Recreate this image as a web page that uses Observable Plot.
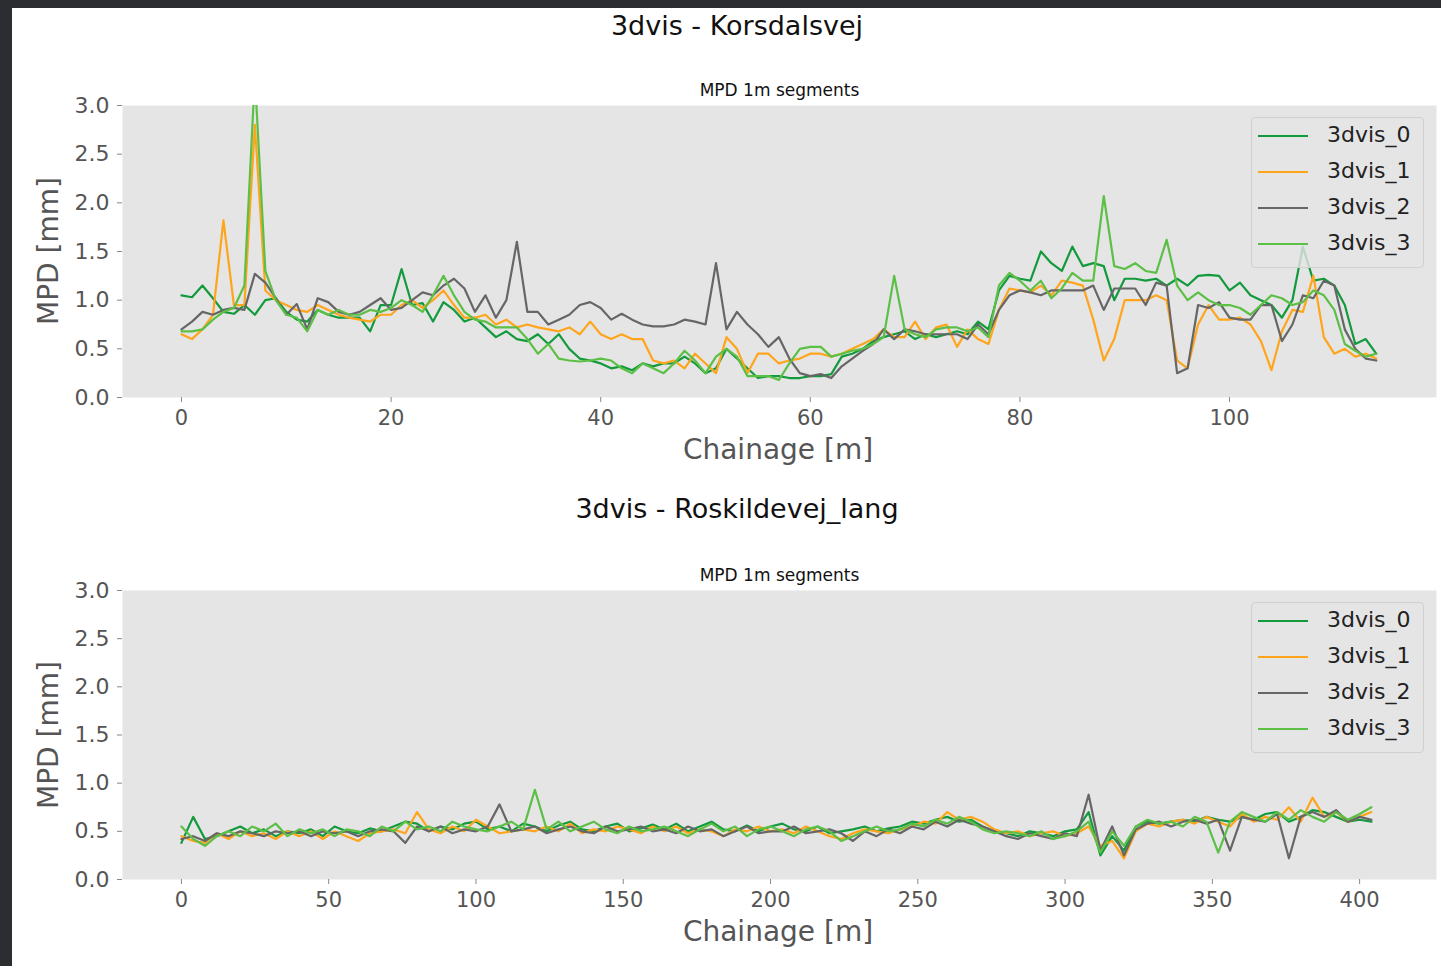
<!DOCTYPE html>
<html><head><meta charset="utf-8">
<script src="https://cdn.jsdelivr.net/npm/d3@7"></script>
<script src="https://cdn.jsdelivr.net/npm/@observablehq/plot@0.6"></script>
<style>
body{margin:0;background:#2b2d31;width:1441px;height:966px;overflow:hidden;font-family:"DejaVu Sans",sans-serif;}
#fig{position:absolute;left:12px;top:8px;width:1429px;height:958px;background:#fff;}
.abs{position:absolute;white-space:nowrap;}
.title{font-size:27px;color:#111;transform:translateX(-50%);}
.xl{font-size:28px;color:#555;transform:translateX(-50%);}
.yl{font-size:28px;color:#555;transform:translate(-50%,-50%) rotate(-90deg);}
.leg{position:absolute;width:171px;height:149px;background:rgba(229,229,229,0.8);border:1px solid #d0d0d0;border-radius:4px;}
.li{position:absolute;left:6px;font-size:22px;color:#222;}
.li span{display:inline-block;width:50px;height:0;border-top:2.5px solid;vertical-align:middle;margin-right:19px;}
</style></head>
<body><div id="fig"></div>
<script>
const seriesNames = ["3dvis_0","3dvis_1","3dvis_2","3dvis_3"];
const colors = ["#139a3d","#ffa51c","#666666","#5cbf46"];
const yTicks = [0,0.5,1,1.5,2,2.5,3];
const xTicksTop = [0,20,40,60,80,100];
const xTicksBottom = [0,50,100,150,200,250,300,350,400];

// Korsdalsvej: chainage 0..114 step 1
const k0 = [1.05,1.03,1.15,1.02,0.88,0.86,0.95,0.85,1.0,1.02,0.88,0.8,0.78,0.9,0.85,0.82,0.82,0.82,0.68,0.95,0.95,1.32,0.95,0.97,0.78,0.98,0.9,0.78,0.82,0.72,0.62,0.68,0.6,0.58,0.65,0.55,0.65,0.5,0.4,0.38,0.35,0.3,0.32,0.28,0.35,0.32,0.35,0.35,0.42,0.35,0.25,0.3,0.5,0.4,0.3,0.2,0.22,0.22,0.2,0.2,0.22,0.22,0.24,0.42,0.45,0.5,0.58,0.62,0.65,0.68,0.6,0.65,0.62,0.65,0.68,0.65,0.78,0.7,1.1,1.25,1.22,1.2,1.5,1.38,1.3,1.55,1.35,1.38,1.35,1.0,1.22,1.22,1.2,1.22,1.15,1.22,1.15,1.25,1.26,1.25,1.1,1.18,1.05,1.0,0.95,0.82,1.0,1.55,1.2,1.22,1.15,0.95,0.55,0.6,0.45];
const k1 = [0.65,0.6,0.7,0.85,1.82,0.95,0.95,2.8,1.1,1.0,0.95,0.9,0.88,0.95,0.9,0.85,0.82,0.8,0.78,0.85,0.85,0.95,1.0,0.92,1.0,1.1,0.95,0.82,0.82,0.85,0.75,0.8,0.72,0.75,0.72,0.7,0.68,0.72,0.65,0.78,0.65,0.6,0.65,0.6,0.6,0.38,0.35,0.38,0.3,0.45,0.35,0.25,0.62,0.5,0.25,0.45,0.45,0.35,0.38,0.4,0.45,0.45,0.42,0.45,0.5,0.55,0.6,0.7,0.62,0.62,0.78,0.6,0.72,0.75,0.52,0.7,0.6,0.55,0.9,1.12,1.1,1.08,1.15,1.05,1.2,1.18,1.15,0.8,0.38,0.6,1.0,1.0,1.0,1.05,1.0,0.38,0.3,0.75,0.95,0.8,0.8,0.82,0.75,0.58,0.28,0.68,0.9,0.88,1.25,0.62,0.45,0.5,0.42,0.45,0.4];
const k2 = [0.7,0.78,0.88,0.85,0.9,0.92,0.9,1.27,1.18,1.02,0.85,0.96,0.7,1.02,0.98,0.88,0.85,0.88,0.95,1.02,0.9,0.92,1.0,1.08,1.05,1.15,1.22,1.12,0.88,1.05,0.82,1.0,1.6,0.88,0.88,0.75,0.8,0.85,0.95,0.98,0.92,0.8,0.86,0.8,0.75,0.73,0.73,0.75,0.8,0.78,0.75,1.38,0.7,0.88,0.75,0.65,0.52,0.62,0.4,0.25,0.22,0.24,0.2,0.32,0.4,0.48,0.55,0.7,0.6,0.7,0.68,0.65,0.65,0.65,0.65,0.6,0.75,0.65,0.9,1.05,1.1,1.08,1.05,1.1,1.1,1.1,1.1,1.15,0.9,1.12,1.12,1.12,0.95,1.18,1.15,0.25,0.3,0.95,0.92,0.98,0.82,0.8,0.8,0.95,0.95,0.58,0.75,1.05,1.02,1.2,1.15,0.7,0.5,0.4,0.38];
const k3 = [0.68,0.68,0.7,0.8,0.88,0.92,1.15,3.3,1.3,1.0,0.85,0.82,0.68,0.9,0.85,0.9,0.85,0.85,0.9,0.88,0.92,1.0,0.95,0.88,1.05,1.25,1.05,0.88,0.8,0.78,0.72,0.72,0.72,0.6,0.45,0.55,0.4,0.38,0.37,0.38,0.4,0.38,0.3,0.25,0.35,0.3,0.25,0.35,0.48,0.38,0.25,0.42,0.5,0.42,0.22,0.22,0.22,0.18,0.35,0.5,0.52,0.52,0.42,0.45,0.48,0.5,0.55,0.62,1.25,0.7,0.65,0.62,0.7,0.72,0.72,0.68,0.72,0.62,1.15,1.28,1.2,1.1,1.2,1.02,1.12,1.28,1.2,1.2,2.07,1.35,1.32,1.38,1.3,1.28,1.62,1.15,1.0,1.08,1.0,0.95,0.95,0.92,0.85,0.95,1.05,1.02,0.95,0.98,1.1,1.05,0.9,0.55,0.48,0.42,0.45];

// Roskildevej_lang: chainage 0..404 step 4
const r0 = [0.38,0.65,0.42,0.45,0.5,0.55,0.48,0.52,0.45,0.5,0.48, 0.52,0.45,0.55,0.5,0.48,0.53,0.5,0.55,0.6,0.58, 0.5,0.55,0.52,0.58,0.6,0.52,0.55,0.5,0.58,0.55, 0.5,0.56,0.6,0.52,0.5,0.55,0.58,0.5,0.53,0.57, 0.52,0.58,0.5,0.55,0.6,0.52,0.5,0.56,0.5,0.55, 0.58,0.52,0.5,0.55,0.48,0.5,0.52,0.55,0.5,0.53, 0.55,0.6,0.58,0.62,0.65,0.6,0.62,0.55,0.5,0.48, 0.45,0.5,0.48,0.45,0.5,0.52,0.7,0.25,0.45,0.3, 0.55,0.6,0.58,0.6,0.62,0.6,0.65,0.62,0.6,0.65, 0.62,0.68,0.7,0.6,0.65,0.72,0.7,0.65,0.6,0.62,0.6];
const r1 = [0.45,0.4,0.38,0.48,0.42,0.5,0.45,0.48,0.42,0.5,0.45, 0.5,0.42,0.5,0.45,0.4,0.48,0.5,0.52,0.48,0.7, 0.52,0.48,0.55,0.5,0.62,0.55,0.48,0.5,0.52,0.5, 0.55,0.5,0.58,0.48,0.52,0.5,0.55,0.52,0.48,0.55, 0.5,0.55,0.48,0.52,0.5,0.45,0.52,0.5,0.55,0.5, 0.52,0.48,0.55,0.5,0.45,0.42,0.48,0.52,0.5,0.48, 0.52,0.55,0.6,0.58,0.7,0.62,0.65,0.6,0.52,0.48, 0.5,0.45,0.48,0.5,0.45,0.48,0.55,0.35,0.4,0.22, 0.5,0.58,0.55,0.6,0.62,0.58,0.65,0.6,0.55,0.68, 0.6,0.65,0.62,0.75,0.6,0.85,0.65,0.7,0.6,0.65,0.7];
const r2 = [0.42,0.45,0.4,0.48,0.45,0.5,0.48,0.45,0.5,0.48,0.5, 0.45,0.5,0.48,0.5,0.45,0.5,0.52,0.5,0.38,0.55, 0.5,0.55,0.48,0.52,0.5,0.55,0.78,0.5,0.52,0.55, 0.48,0.52,0.55,0.5,0.48,0.55,0.5,0.52,0.55,0.5, 0.52,0.48,0.55,0.5,0.52,0.45,0.5,0.55,0.48,0.5, 0.5,0.55,0.48,0.5,0.52,0.48,0.4,0.5,0.45,0.52, 0.48,0.55,0.52,0.6,0.55,0.62,0.58,0.55,0.5,0.45, 0.42,0.48,0.45,0.42,0.48,0.45,0.88,0.3,0.55,0.25, 0.52,0.58,0.6,0.55,0.6,0.62,0.58,0.62,0.3,0.65, 0.62,0.6,0.68,0.22,0.65,0.7,0.65,0.72,0.6,0.65,0.62];
const r3 = [0.55,0.42,0.35,0.45,0.5,0.45,0.55,0.5,0.58,0.45,0.52, 0.48,0.52,0.45,0.52,0.5,0.45,0.55,0.5,0.6,0.52, 0.55,0.5,0.6,0.55,0.52,0.5,0.55,0.6,0.52,0.93, 0.52,0.6,0.5,0.55,0.6,0.52,0.48,0.55,0.5,0.52, 0.55,0.5,0.45,0.52,0.58,0.5,0.55,0.45,0.52,0.55, 0.5,0.45,0.52,0.55,0.5,0.4,0.45,0.5,0.55,0.5, 0.52,0.58,0.55,0.62,0.58,0.65,0.6,0.52,0.48,0.5, 0.48,0.45,0.5,0.42,0.45,0.5,0.6,0.28,0.5,0.35, 0.55,0.62,0.58,0.6,0.55,0.65,0.6,0.28,0.6,0.7, 0.65,0.6,0.7,0.62,0.72,0.65,0.6,0.7,0.62,0.68,0.75];

function rows(arrs, step){
  const out=[];
  arrs.forEach((a,si)=>a.forEach((v,i)=>out.push({x:i*step,y:v,s:seriesNames[si]})));
  return out;
}
const fig=document.getElementById("fig");
function add(html){fig.insertAdjacentHTML("beforeend",html);}

function chart(data, xdom, xticks, top, plotH, title, titleY){
  const p = Plot.plot({
    width:1429, height:45+plotH+70, marginLeft:110, marginRight:5, marginTop:45, marginBottom:70,
    style:{fontFamily:"DejaVu Sans", background:"transparent", overflow:"visible"},
    x:{domain:xdom, ticks:xticks, tickFormat:d=>String(d), label:null},
    y:{domain:[0,3], ticks:yTicks, tickFormat:d3.format(".1f"), label:null},
    color:{domain:seriesNames, range:colors},
    marks:[
      Plot.frame({fill:"#e5e5e5", stroke:null}),
      Plot.axisX({ticks:xticks, tickFormat:d=>String(d), tickSize:5, tickPadding:8, fontSize:21, color:"#555", stroke:"#888", label:null}),
      Plot.axisY({ticks:yTicks, tickFormat:d3.format(".1f"), tickSize:5, tickPadding:8, fontSize:22, color:"#555", stroke:"#888", label:null}),
      Plot.line(data,{x:"x",y:"y",z:"s",stroke:"s",strokeWidth:2.2,clip:true}),
      Plot.text(["MPD 1m segments"],{frameAnchor:"top",dy:-22,fontSize:17,fill:"#111"})
    ]
  });
  p.style.position="absolute"; p.style.left="0px"; p.style.top=(top-8)+"px";
  fig.appendChild(p);
  add(`<div class="abs title" style="left:${737-12}px;top:${titleY-8-17}px">${title}</div>`);
  const plotTop=top+45;
  add(`<div class="abs xl" style="left:${778-12}px;top:${plotTop+plotH+36-8}px">Chainage [m]</div>`);
  add(`<div class="abs yl" style="left:${48-12}px;top:${plotTop+plotH/2-8}px">MPD [mm]</div>`);
  let lg=`<div class="leg" style="left:${1251-12}px;top:${plotTop+12-8}px">`;
  seriesNames.forEach((n,i)=>{lg+=`<div class="li" style="top:${4+i*36}px"><span style="border-color:${colors[i]}"></span>${n}</div>`;});
  lg+="</div>"; add(lg);
}
chart(rows([k0,k1,k2,k3],1), [-5.63,119.75], xTicksTop, 60, 292, "3dvis - Korsdalsvej", 27);
chart(rows([r0,r1,r2,r3],4), [-20,426.1], xTicksBottom, 545, 289, "3dvis - Roskildevej_lang", 510);
</script></body></html>
